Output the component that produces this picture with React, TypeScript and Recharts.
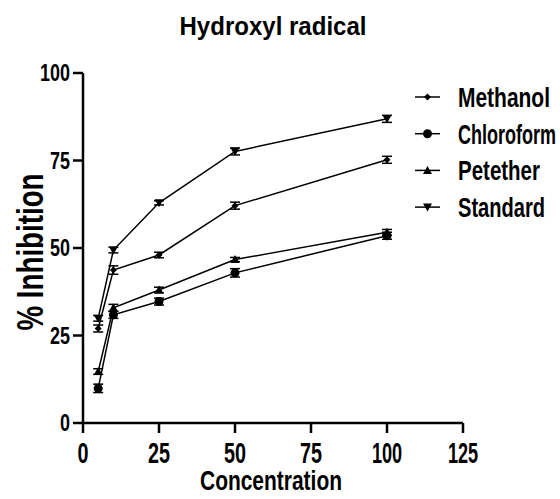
import React from 'react';
import { LineChart, Line, XAxis, YAxis, ErrorBar } from 'recharts';

const FONT = "'Liberation Sans', Arial, sans-serif";

const concentrations = [5, 10, 25, 50, 100];
const methanol = [27.0, 43.7, 48.0, 62.1, 75.2];
const chloroform = [9.9, 30.9, 34.7, 42.9, 53.5];
const petether = [14.7, 32.9, 38.0, 46.7, 54.5];
const standard = [29.9, 49.4, 62.9, 77.6, 86.9];

// small SEM bars, read roughly
const methanolErr = [1.0, 1.2, 0.8, 1.0, 1.0];
const chloroformErr = [1.2, 1.0, 1.0, 1.2, 1.0];
const petetherErr = [0.8, 1.0, 0.8, 0.6, 0.8];
const standardErr = [0.8, 0.8, 0.6, 1.0, 1.0];

const xTicks = [0, 25, 50, 75, 100, 125];
const yTicks = [0, 25, 50, 75, 100];

const series = [
  { key: 'methanol', name: 'Methanol', marker: 'diamond', textW: 92 },
  { key: 'chloroform', name: 'Chloroform', marker: 'circle', textW: 98 },
  { key: 'petether', name: 'Petether', marker: 'up', textW: 82 },
  { key: 'standard', name: 'Standard', marker: 'down', textW: 87 },
];

const chartData = concentrations.map((c, i) => ({
  conc: c,
  methanol: methanol[i],
  methanolErr: methanolErr[i],
  chloroform: chloroform[i],
  chloroformErr: chloroformErr[i],
  petether: petether[i],
  petetherErr: petetherErr[i],
  standard: standard[i],
  standardErr: standardErr[i],
}));

// the original uses a tall, very narrow bold face; squeeze Liberation Sans with textLength
function labelWidth(s: string, per: number, one = 0.75) {
  let w = 0;
  for (const ch of s) w += ch === '1' ? per * one : per;
  return w;
}

function Marker({ cx, cy, kind }: { cx: number; cy: number; kind: string }) {
  if (cx == null || cy == null) return null;
  if (kind === 'diamond') {
    return <polygon points={`${cx},${cy - 3.5} ${cx + 3.5},${cy} ${cx},${cy + 3.5} ${cx - 3.5},${cy}`} fill="#000" />;
  }
  if (kind === 'circle') {
    return <circle cx={cx} cy={cy} r={4.5} fill="#000" />;
  }
  if (kind === 'up') {
    return <polygon points={`${cx},${cy - 4.5} ${cx + 4.5},${cy + 3.5} ${cx - 4.5},${cy + 3.5}`} fill="#000" />;
  }
  return <polygon points={`${cx - 4.5},${cy - 3.5} ${cx + 4.5},${cy - 3.5} ${cx},${cy + 4.5}`} fill="#000" />;
}

function XTick({ x, y, payload }: any) {
  const s = String(payload.value);
  return (
    <text x={x} y={y + 30} textAnchor="middle" fontFamily={FONT} fontWeight="bold" fontSize={29} fill="#000"
      textLength={labelWidth(s, 11)} lengthAdjust="spacingAndGlyphs">
      {s}
    </text>
  );
}

function YTick({ x, y, payload }: any) {
  const s = String(payload.value);
  return (
    <text x={x} y={y + 8} textAnchor="end" fontFamily={FONT} fontWeight="bold" fontSize={24} fill="#000"
      textLength={labelWidth(s, 10, 1)} lengthAdjust="spacingAndGlyphs">
      {s}
    </text>
  );
}

export default function App() {
  return (
    <div style={{ position: 'absolute', left: 0, top: 0, width: 560, height: 499, background: '#fff' }}>
      <LineChart width={560} height={499} data={chartData} margin={{ top: 73, right: 97, bottom: 9, left: 0 }}>
        <XAxis
          dataKey="conc"
          type="number"
          domain={[0, 125]}
          ticks={xTicks}
          interval={0}
          height={67}
          tickSize={10}
          tickMargin={0}
          stroke="#000"
          strokeWidth={2.5}
          tick={XTick}
          label={{
            content: () => (
              <text x={271} y={490} textAnchor="middle" fontFamily={FONT} fontWeight="bold" fontSize={27} fill="#000"
                textLength={142} lengthAdjust="spacingAndGlyphs">
                Concentration
              </text>
            ),
          }}
        />
        <YAxis
          type="number"
          domain={[0, 100]}
          ticks={yTicks}
          interval={0}
          width={83}
          tickSize={10}
          tickMargin={3}
          stroke="#000"
          strokeWidth={2.5}
          tick={YTick}
          label={{
            content: () => (
              <text x={43} y={252} transform="rotate(-90 43 252)" textAnchor="middle" fontFamily={FONT}
                fontWeight="bold" fontSize={37} fill="#000" textLength={157} lengthAdjust="spacingAndGlyphs">
                % Inhibition
              </text>
            ),
          }}
        />
        {series.map((s) => (
          <Line
            key={s.key}
            dataKey={s.key}
            name={s.name}
            stroke="#000"
            strokeWidth={1.5}
            isAnimationActive={false}
            dot={(p: any) => <Marker key={`${s.key}-${p.index}`} cx={p.cx} cy={p.cy} kind={s.marker} />}
            activeDot={false}
          >
            <ErrorBar dataKey={`${s.key}Err`} direction="y" width={5} stroke="#000" strokeWidth={1.5} />
          </Line>
        ))}
      </LineChart>
      <svg width={560} height={499} style={{ position: 'absolute', left: 0, top: 0, pointerEvents: 'none' }}>
        <text x={273} y={35} textAnchor="middle" fontFamily={FONT} fontWeight="bold" fontSize={25} fill="#000"
          textLength={187} lengthAdjust="spacingAndGlyphs">
          Hydroxyl radical
        </text>
        {series.map((s, i) => {
          const y = 97 + i * 36.7;
          return (
            <g key={s.key}>
              <line x1={415} x2={440} y1={y} y2={y} stroke="#000" strokeWidth={1.5} />
              <Marker cx={427.5} cy={y} kind={s.marker} />
              <text x={458} y={y + 10} fontFamily={FONT} fontWeight="bold" fontSize={28} fill="#000"
                textLength={s.textW} lengthAdjust="spacingAndGlyphs">
                {s.name}
              </text>
            </g>
          );
        })}
      </svg>
    </div>
  );
}
